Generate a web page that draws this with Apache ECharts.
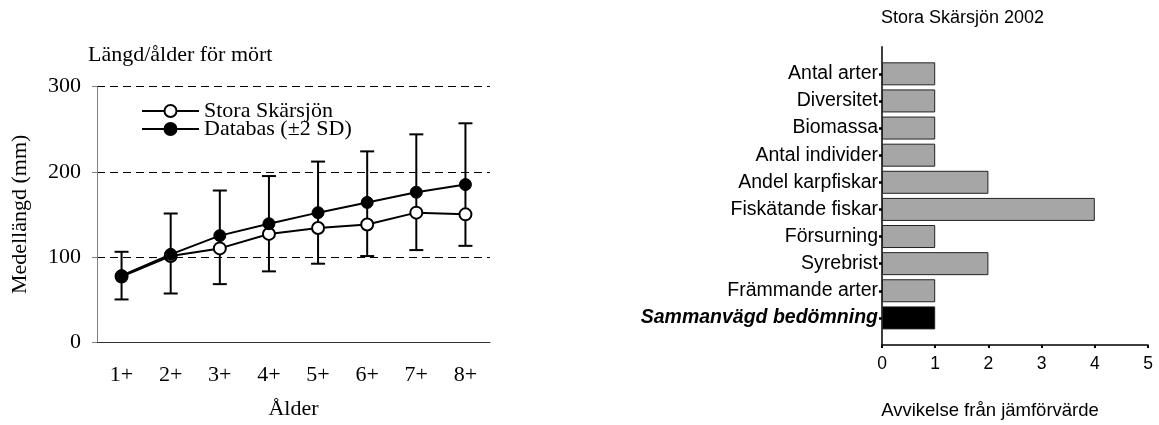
<!DOCTYPE html>
<html>
<head>
<meta charset="utf-8">
<script src="https://cdn.jsdelivr.net/npm/echarts@6/dist/echarts.min.js"></script>
<style>
  html, body { margin: 0; padding: 0; background: #fff; }
  #chart { width: 1159px; height: 425px; }
</style>
</head>
<body>
<div id="chart"></div>
<script>
// Length at age for roach (mört): lake mean vs database mean with ±2 SD
const ageLabels = ['1+', '2+', '3+', '4+', '5+', '6+', '7+', '8+'];
const storaLength = [77, 101, 110, 127, 134, 138, 152, 150];
const databasLength = [78, 103, 125, 139, 152, 164, 176, 185];
const databasLow = [50, 57, 68, 83, 92, 101, 108, 113];
const databasHigh = [106, 151, 178, 195, 212, 224, 244, 257];
const lengthTicks = [0, 100, 200, 300];

// Deviation from reference value per indicator
const indicators = ['Antal arter', 'Diversitet', 'Biomassa', 'Antal individer', 'Andel karpfiskar',
  'Fiskätande fiskar', 'Försurning', 'Syrebrist', 'Främmande arter', 'Sammanvägd bedömning'];
const deviation = [1, 1, 1, 1, 2, 4, 1, 2, 1, 1];
const deviationTicks = [0, 1, 2, 3, 4, 5];

const SERIF = '"Liberation Serif", "Times New Roman", serif';
const SANS = '"Liberation Sans", Arial, sans-serif';

// padded category list leaves an empty slot above the first and below the last bar
const indicatorSlots = [''].concat(indicators, ['']);
const deviationSlots = ['-'].concat(deviation.map((v, i) => ({
  value: v,
  itemStyle: { color: i === indicators.length - 1 ? '#000' : '#a6a6a6' }
})), ['-']);

const chart = echarts.init(document.getElementById('chart'), null, { renderer: 'canvas' });

chart.setOption({
  animation: false,
  backgroundColor: '#fff',
  title: [
    { text: 'Längd/ålder för mört', left: 88, top: 44, padding: 0,
      textStyle: { fontFamily: SERIF, fontSize: 22, fontWeight: 'normal', color: '#000' } },
    { text: 'Stora Skärsjön 2002', left: 881, top: 9, padding: 0,
      textStyle: { fontFamily: SANS, fontSize: 18, fontWeight: 'normal', color: '#000' } }
  ],
  legend: {
    left: 141, top: 100, padding: 0, orient: 'vertical', itemGap: -4,
    itemWidth: 57, itemHeight: 15,
    data: ['Stora Skärsjön', 'Databas (±2 SD)'],
    textStyle: { fontFamily: SERIF, fontSize: 22, color: '#000' }
  },
  grid: [
    { left: 97, right: 669, top: 86.7, bottom: 79.3 },
    { left: 882, right: 11, top: 46.7, bottom: 76.7 }
  ],
  xAxis: [
    {
      gridIndex: 0, type: 'category', data: ageLabels, boundaryGap: true,
      name: 'Ålder', nameLocation: 'middle', nameGap: 56,
      nameTextStyle: { fontFamily: SERIF, fontSize: 22, color: '#000' },
      axisLine: { lineStyle: { color: '#333', width: 1 } },
      axisTick: { length: 6, lineStyle: { color: '#333' } },
      axisLabel: { margin: 22, fontFamily: SERIF, fontSize: 22, color: '#000' }
    },
    {
      gridIndex: 1, type: 'value', min: deviationTicks[0], max: deviationTicks[deviationTicks.length - 1], interval: 1,
      name: 'Avvikelse från jämförvärde', nameLocation: 'middle', nameGap: 56,
      nameTextStyle: { fontFamily: SANS, fontSize: 18.5, color: '#000', padding: [0, 50, 0, 0] },
      axisLine: { show: true, lineStyle: { color: '#000', width: 1.5 } },
      axisTick: { show: true, length: 3, lineStyle: { color: '#000', width: 2 } },
      axisLabel: { margin: 10, fontFamily: SANS, fontSize: 17.5, color: '#000' },
      splitLine: { show: false }
    }
  ],
  yAxis: [
    {
      gridIndex: 0, type: 'value', min: lengthTicks[0], max: lengthTicks[lengthTicks.length - 1], interval: 100,
      name: 'Medellängd (mm)', nameLocation: 'middle', nameGap: 66,
      nameTextStyle: { fontFamily: SERIF, fontSize: 22, color: '#000' },
      axisLine: { show: true, lineStyle: { color: '#808080', width: 1 } },
      axisTick: { show: true, length: 5, lineStyle: { color: '#808080' } },
      axisLabel: { margin: 16, fontFamily: SERIF, fontSize: 22, color: '#000' },
      splitLine: { show: true, lineStyle: { color: '#000', width: 1, type: [8, 5] } }
    },
    {
      gridIndex: 1, type: 'category', data: indicatorSlots, inverse: true, boundaryGap: false,
      axisLine: { show: true, lineStyle: { color: '#000', width: 1.5 } },
      axisTick: { show: true, length: 3, interval: (i) => i > 0 && i < indicatorSlots.length - 1,
        lineStyle: { color: '#000', width: 2.5 } },
      axisLabel: {
        margin: 4, interval: 0, fontFamily: SANS, fontSize: 19.5, color: '#000',
        formatter: (v) => v === indicators[indicators.length - 1] ? '{b|' + v + '}' : v,
        rich: { b: { fontFamily: SANS, fontSize: 19.5, fontWeight: 'bold', fontStyle: 'italic', color: '#000' } }
      },
      splitLine: { show: false }
    }
  ],
  series: [
    {
      // ±2 SD whiskers around the database mean
      type: 'custom', xAxisIndex: 0, yAxisIndex: 0, z: 2,
      data: ageLabels.map((a, i) => [i, databasLow[i], databasHigh[i]]),
      renderItem: (params, api) => {
        const lo = api.coord([api.value(0), api.value(1)]);
        const hi = api.coord([api.value(0), api.value(2)]);
        const cap = 7;
        const style = { stroke: '#000', lineWidth: 2 };
        return {
          type: 'group',
          children: [
            { type: 'line', shape: { x1: lo[0], y1: lo[1], x2: hi[0], y2: hi[1] }, style },
            { type: 'line', shape: { x1: lo[0] - cap, y1: lo[1], x2: lo[0] + cap, y2: lo[1] }, style },
            { type: 'line', shape: { x1: hi[0] - cap, y1: hi[1], x2: hi[0] + cap, y2: hi[1] }, style }
          ]
        };
      }
    },
    {
      name: 'Stora Skärsjön', type: 'line', xAxisIndex: 0, yAxisIndex: 0, z: 3,
      data: storaLength, symbol: 'circle', symbolSize: 12,
      lineStyle: { color: '#000', width: 2 },
      itemStyle: { color: '#fff', borderColor: '#000', borderWidth: 2 }
    },
    {
      name: 'Databas (±2 SD)', type: 'line', xAxisIndex: 0, yAxisIndex: 0, z: 4,
      data: databasLength, symbol: 'circle', symbolSize: 12,
      lineStyle: { color: '#000', width: 2 },
      itemStyle: { color: '#000', borderColor: '#000', borderWidth: 1 }
    },
    {
      type: 'bar', xAxisIndex: 1, yAxisIndex: 1,
      data: deviationSlots, barWidth: 23,
      itemStyle: { borderColor: '#222', borderWidth: 1 }
    }
  ]
});
</script>
</body>
</html>
